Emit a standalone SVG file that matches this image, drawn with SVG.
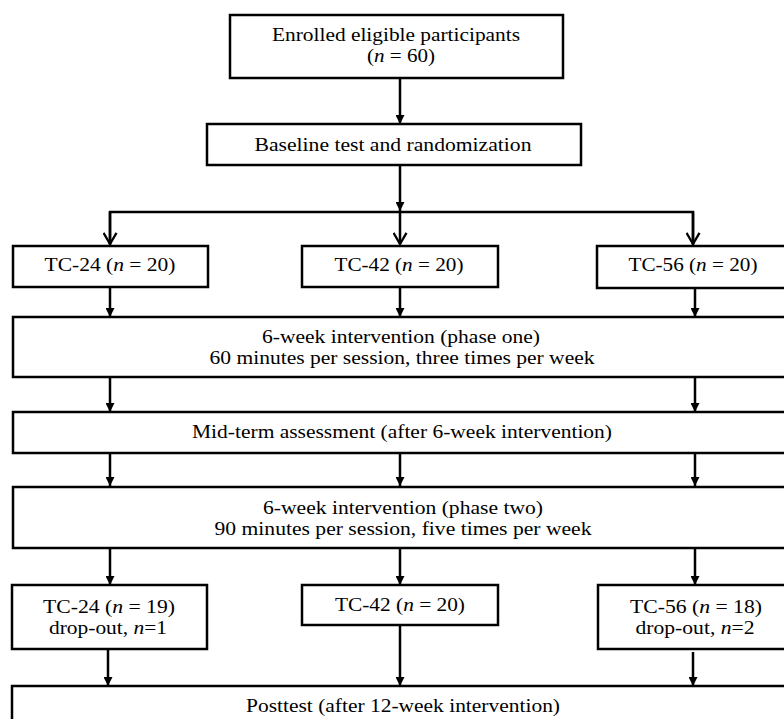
<svg xmlns="http://www.w3.org/2000/svg" width="784" height="719" viewBox="0 0 784 719">
<style>
.box{fill:#fff;stroke:#000;stroke-width:2.5}
.t{font-family:'Liberation Serif','DejaVu Serif','Times New Roman',serif;font-size:18.5px;fill:#000;text-anchor:middle}
.i{font-style:italic}
.c{stroke:#000;stroke-width:2.5;fill:none}
</style>
<defs>
<marker id="tri" viewBox="0 0 10 10" refX="10" refY="5" markerWidth="9" markerHeight="9" markerUnits="userSpaceOnUse" orient="auto">
<path d="M0,0 L10,5 L0,10 z" fill="#000"/>
</marker>
<marker id="chev" viewBox="0 0 14 16" refX="13" refY="8" markerWidth="13" markerHeight="15" markerUnits="userSpaceOnUse" orient="auto">
<path d="M1,1 L13,8 L1,15" fill="none" stroke="#000" stroke-width="2.5"/>
</marker>
</defs>
<g id="connectors">
<line class="c" x1="400" y1="78" x2="400" y2="124" marker-end="url(#tri)"/>
<line class="c" x1="400" y1="165" x2="400" y2="211" marker-end="url(#tri)"/>
<polyline class="c" points="110,245 110,212 693,212 693,245"/>
<line class="c" x1="110" y1="212" x2="110" y2="244" marker-end="url(#chev)"/>
<line class="c" x1="400" y1="211" x2="400" y2="244" marker-end="url(#chev)"/>
<line class="c" x1="693" y1="212" x2="693" y2="244" marker-end="url(#chev)"/>
<line class="c" x1="110" y1="287" x2="110" y2="317" marker-end="url(#tri)"/>
<line class="c" x1="400" y1="287" x2="400" y2="317" marker-end="url(#tri)"/>
<line class="c" x1="695" y1="288" x2="695" y2="317" marker-end="url(#tri)"/>
<line class="c" x1="110" y1="377" x2="110" y2="412" marker-end="url(#tri)"/>
<line class="c" x1="695" y1="377" x2="695" y2="412" marker-end="url(#tri)"/>
<line class="c" x1="110" y1="453" x2="110" y2="486" marker-end="url(#tri)"/>
<line class="c" x1="400" y1="453" x2="400" y2="486" marker-end="url(#tri)"/>
<line class="c" x1="695" y1="453" x2="695" y2="486" marker-end="url(#tri)"/>
<line class="c" x1="110" y1="548" x2="110" y2="585" marker-end="url(#tri)"/>
<line class="c" x1="400" y1="548" x2="400" y2="585" marker-end="url(#tri)"/>
<line class="c" x1="695" y1="548" x2="695" y2="585" marker-end="url(#tri)"/>
<line class="c" x1="108" y1="649" x2="108" y2="686" marker-end="url(#tri)"/>
<line class="c" x1="400" y1="625" x2="400" y2="686" marker-end="url(#tri)"/>
<line class="c" x1="693" y1="652" x2="693" y2="686" marker-end="url(#tri)"/>
</g>
<g id="enrolled">
<rect class="box" x="230" y="15" width="333" height="63"/>
<text class="t" x="396" y="41" textLength="248" lengthAdjust="spacingAndGlyphs">Enrolled eligible participants</text>
<text class="t" x="401" y="62" textLength="68" lengthAdjust="spacingAndGlyphs">(<tspan class="i">n</tspan> = 60)</text>
</g>
<g id="baseline">
<rect class="box" x="207" y="124" width="374" height="41"/>
<text class="t" x="393" y="151" textLength="277" lengthAdjust="spacingAndGlyphs">Baseline test and randomization</text>
</g>
<g id="tc24a">
<rect class="box" x="13" y="246" width="195" height="41"/>
<text class="t" x="110" y="271" textLength="131" lengthAdjust="spacingAndGlyphs">TC-24 (<tspan class="i">n</tspan> = 20)</text>
</g>
<g id="tc42a">
<rect class="box" x="302" y="246" width="196" height="41"/>
<text class="t" x="399" y="271" textLength="129" lengthAdjust="spacingAndGlyphs">TC-42 (<tspan class="i">n</tspan> = 20)</text>
</g>
<g id="tc56a">
<rect class="box" x="597" y="246" width="200" height="42"/>
<text class="t" x="693" y="271" textLength="129" lengthAdjust="spacingAndGlyphs">TC-56 (<tspan class="i">n</tspan> = 20)</text>
</g>
<g id="phase1">
<rect class="box" x="13" y="317" width="790" height="60"/>
<text class="t" x="401" y="343" textLength="278" lengthAdjust="spacingAndGlyphs">6-week intervention (phase one)</text>
<text class="t" x="402" y="364" textLength="385" lengthAdjust="spacingAndGlyphs">60 minutes per session, three times per week</text>
</g>
<g id="midterm">
<rect class="box" x="13" y="412" width="790" height="41"/>
<text class="t" x="402" y="438" textLength="420" lengthAdjust="spacingAndGlyphs">Mid-term assessment (after 6-week intervention)</text>
</g>
<g id="phase2">
<rect class="box" x="13" y="487" width="790" height="61"/>
<text class="t" x="403" y="514" textLength="280" lengthAdjust="spacingAndGlyphs">6-week intervention (phase two)</text>
<text class="t" x="403" y="535" textLength="377" lengthAdjust="spacingAndGlyphs">90 minutes per session, five times per week</text>
</g>
<g id="tc24b">
<rect class="box" x="12" y="585" width="195" height="64"/>
<text class="t" x="109" y="613" textLength="132" lengthAdjust="spacingAndGlyphs">TC-24 (<tspan class="i">n</tspan> = 19)</text>
<text class="t" x="108" y="634" textLength="118" lengthAdjust="spacingAndGlyphs">drop-out, <tspan class="i">n</tspan>=1</text>
</g>
<g id="tc42b">
<rect class="box" x="302" y="585" width="196" height="40"/>
<text class="t" x="400" y="611" textLength="130" lengthAdjust="spacingAndGlyphs">TC-42 (<tspan class="i">n</tspan> = 20)</text>
</g>
<g id="tc56b">
<rect class="box" x="598" y="585" width="200" height="64"/>
<text class="t" x="696" y="613" textLength="132" lengthAdjust="spacingAndGlyphs">TC-56 (<tspan class="i">n</tspan> = 18)</text>
<text class="t" x="695" y="634" textLength="119" lengthAdjust="spacingAndGlyphs">drop-out, <tspan class="i">n</tspan>=2</text>
</g>
<g id="posttest">
<rect class="box" x="12" y="686" width="790" height="50"/>
<text class="t" x="403" y="712" textLength="314" lengthAdjust="spacingAndGlyphs">Posttest (after 12-week intervention)</text>
</g>
</svg>
